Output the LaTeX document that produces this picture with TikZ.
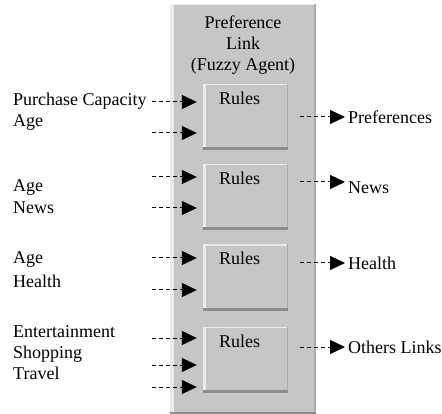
\documentclass[tikz,border=0pt]{standalone}
\usepackage{fontspec}
\setmainfont{Liberation Serif}
\usetikzlibrary{arrows.meta}
\definecolor{panelgray}{HTML}{C6C6C6}
\definecolor{lightedge}{HTML}{EBEBEB}
\definecolor{darkedge}{HTML}{8C8C8C}
\definecolor{midedge}{HTML}{ABABAB}
\begin{document}
\begin{tikzpicture}[x=1pt,y=-1pt,
  lbl/.style={font=\fontsize{18}{21}\selectfont, inner sep=0pt},
  panelbox/.style={fill=panelgray, minimum width=146pt, minimum height=410pt, inner sep=0pt, anchor=north west},
  rulebox/.style={fill=panelgray, minimum width=85pt, minimum height=66pt, inner sep=0pt},
  flow/.style={dash pattern=on 4pt off 3pt, line width=1pt, -{Triangle[length=15pt,width=14pt]}},
]
\useasboundingbox (0,0) rectangle (442,414);
\fill[white] (0,0) rectangle (442,414);
% panel
\node[panelbox] (agent) at (170,4) {};
\fill[lightedge] (agent.north west) rectangle ([xshift=4pt]agent.south west);
\fill[lightedge] (agent.north west) rectangle ([yshift=-1.5pt]agent.north east);
\fill[midedge] ([xshift=-2pt]agent.north east) rectangle (agent.south east);
\fill[darkedge] ([yshift=2pt]agent.south west) rectangle (agent.south east);
\node[lbl, align=center] (title) at (243,45) {Preference\\Link\\(Fuzzy Agent)};
% rule boxes
\node[rulebox] (box1) at (245.5,117) {};
\node[rulebox] (box2) at (245.5,197) {};
\node[rulebox] (box3) at (245.5,277.5) {};
\node[rulebox] (box4) at (245.5,360) {};
\foreach \b in {box1,box2,box3,box4}{
  \fill[lightedge] (\b.north west) rectangle ([xshift=3pt]\b.south west);
  \fill[lightedge] (\b.north west) rectangle ([yshift=-1.5pt]\b.north east);
  \fill[midedge] ([xshift=-1.5pt]\b.north east) rectangle (\b.south east);
  \fill[darkedge] ([yshift=3pt]\b.south west) rectangle (\b.south east);
  \node[lbl, anchor=north] (\b-r) at ([xshift=-6pt,yshift=-8pt]\b.north) {Rules};
}
% left labels
\node[lbl, anchor=west] (l1) at (13,101) {Purchase Capacity};
\node[lbl, anchor=west] (l2) at (13,123) {Age};
\node[lbl, anchor=west] (l3) at (13,188) {Age};
\node[lbl, anchor=west] (l4) at (13,208) {News};
\node[lbl, anchor=west] (l5) at (13,260) {Age};
\node[lbl, anchor=west] (l6) at (13,281) {Health};
\node[lbl, anchor=west] (l7) at (13,332) {Entertainment};
\node[lbl, anchor=west] (l8) at (13,354) {Shopping};
\node[lbl, anchor=west] (l9) at (13,373) {Travel};
% input arrows
\coordinate (i1) at (152,102);
\coordinate (i2) at (152,133);
\coordinate (i3) at (152,177);
\coordinate (i4) at (152,208);
\coordinate (i5) at (152,258);
\coordinate (i6) at (152,290);
\coordinate (i7) at (152,338);
\coordinate (i8) at (152,365);
\coordinate (i9) at (152,387);
\draw[flow, shorten >=6pt] (i1) -- (i1 -| box1.west);
\draw[flow, shorten >=6pt] (i2) -- (i2 -| box1.west);
\draw[flow, shorten >=6pt] (i3) -- (i3 -| box2.west);
\draw[flow, shorten >=6pt] (i4) -- (i4 -| box2.west);
\draw[flow, shorten >=6pt] (i5) -- (i5 -| box3.west);
\draw[flow, shorten >=6pt] (i6) -- (i6 -| box3.west);
\draw[flow, shorten >=6pt] (i7) -- (i7 -| box4.west);
\draw[flow, shorten >=6pt] (i8) -- (i8 -| box4.west);
\draw[flow, shorten >=6pt] (i9) -- (i9 -| box4.west);
% outputs
\coordinate (o1) at (345,117);
\coordinate (o2) at (345,182);
\coordinate (o3) at (345,263);
\coordinate (o4) at (345,347);
\draw[flow, shorten <=12pt] (box1.east |- o1) -- (o1);
\draw[flow, shorten <=12pt] (box2.east |- o2) -- (o2);
\draw[flow, shorten <=12pt] (box3.east |- o3) -- (o3);
\draw[flow, shorten <=12pt] (box4.east |- o4) -- (o4);
\node[lbl, anchor=west] (r1) at (348,117) {Preferences};
\node[lbl, anchor=west] (r2) at (348,188) {News};
\node[lbl, anchor=west] (r3) at (348,263) {Health};
\node[lbl, anchor=west] (r4) at (348,347) {Others Links};
\end{tikzpicture}
\end{document}
